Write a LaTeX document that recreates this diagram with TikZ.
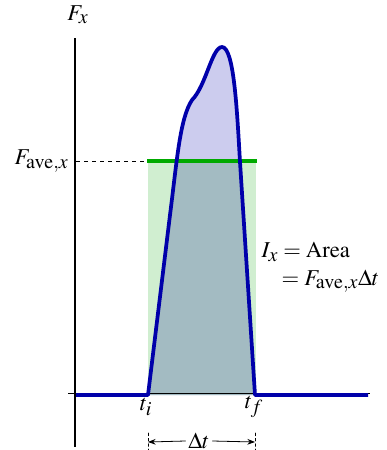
\documentclass[tikz,border=0pt]{standalone}
\usepackage{mathptmx}
\usepackage{fontspec}
\setmainfont{Liberation Serif}
\DeclareMathSizes{17}{17}{15}{11}
\usetikzlibrary{arrows.meta}
\definecolor{curveblue}{RGB}{0,0,170}
\definecolor{peakfill}{RGB}{204,204,238}
\definecolor{overlapfill}{RGB}{163,187,194}
\definecolor{avefill}{RGB}{208,238,208}
\definecolor{aveline}{RGB}{0,170,0}
\begin{document}
\begin{tikzpicture}[x=0.75pt,y=-0.75pt,font=\fontsize{17}{20}\selectfont, line join=round, line cap=round, >=Stealth]
    \useasboundingbox (0,0) rectangle (386,450);
    \clip (0,0) rectangle (386,450);
    \def\pulse{(148,395) -- (170,215) .. controls (177,160) and (180,118) .. (192,100) .. controls (206,86) and (212,47) .. (222,47) .. controls (234,47) and (237,110) .. (240,162) -- (255,395)}
    % average force box and area under the pulse
    \fill[avefill] (148,161) rectangle (256,395);
    \fill[peakfill] \pulse -- cycle;
    \begin{scope}
        \clip (148,161) rectangle (256,395);
        \fill[overlapfill] \pulse -- cycle;
    \end{scope}
    % axes
    \draw[line width=0.8pt, line cap=butt] (75,38) -- (75,447);
    \draw[line width=0.8pt, line cap=butt] (68,393.5) -- (370,393.5);
    \draw[dashed, line width=0.6pt, line cap=butt] (76,161) -- (147,161);
    \draw[aveline, line width=2.4pt, line cap=butt] (147,161) -- (257,161);
    % force curve
    \draw[curveblue, line width=2.8pt, line cap=butt] (76,395) -- \pulse -- (368,395);
    % labels
    \node[inner sep=1pt] (fx) at (78,15) {$F_x$};
    \node[anchor=east, inner sep=1pt] (fave) at (70,161) {$F_{\mathrm{ave},x}$};
    \node (ti) at (146,407) {$t_i$};
    \node (tf) at (254,407) {$t_f$};
    \node[anchor=west] (area) at (257,252) {$I_x = \mathrm{Area}$};
    \node[anchor=west] (prod) at (277,281) {$= F_{\mathrm{ave},x}\Delta t$};
    % width of the pulse
    \node[inner sep=2pt] (dt) at (199,441) {$\Delta t$};
    \coordinate (dl) at (148,442);
    \coordinate (dr) at (255,442);
    \draw[->, line width=0.6pt] (dt.west) -- (dl);
    \draw[->, line width=0.6pt] (dt.east) -- (dr);
    \draw[dashed, line width=0.5pt, dash pattern=on 2pt off 2pt] (148,433) -- (148,450) (255,433) -- (255,450);
\end{tikzpicture}
\end{document}
